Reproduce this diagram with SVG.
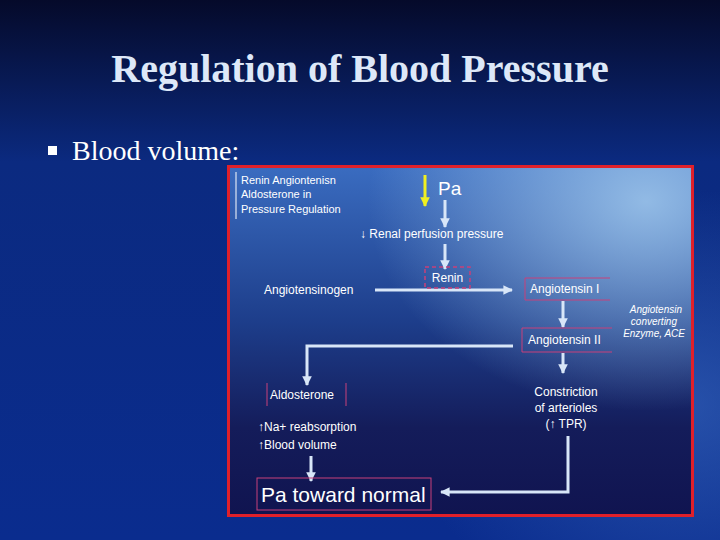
<svg xmlns="http://www.w3.org/2000/svg" width="720" height="540" viewBox="0 0 720 540">
<defs>
<linearGradient id="bg" x1="0" y1="0" x2="0" y2="1"><stop offset="0" stop-color="#050a2a"/><stop offset="0.3" stop-color="#0b2a80"/><stop offset="1" stop-color="#0a2c8e"/></linearGradient>
<radialGradient id="bg2" cx="0.95" cy="0.75" r="0.4"><stop offset="0" stop-color="#3a6ac0" stop-opacity="0.6"/><stop offset="1" stop-color="#3a6ac0" stop-opacity="0"/></radialGradient>
<linearGradient id="pn" x1="0" y1="0" x2="0" y2="1"><stop offset="0" stop-color="#3a6cc0"/><stop offset="0.45" stop-color="#1d3d8a"/><stop offset="0.75" stop-color="#141c5a"/><stop offset="1" stop-color="#101450"/></linearGradient>
<radialGradient id="pn2" cx="0.9" cy="0.1" r="0.6"><stop offset="0" stop-color="#9cc4ea" stop-opacity="0.9"/><stop offset="1" stop-color="#9cc4ea" stop-opacity="0"/></radialGradient>
<marker id="ah" viewBox="0 0 10 10" refX="9" refY="5" markerWidth="3.2" markerHeight="3.2" orient="auto"><path d="M0,0L10,5L0,10z" fill="#d8e6f8"/></marker>
<marker id="ay" viewBox="0 0 10 10" refX="9" refY="5" markerWidth="3.2" markerHeight="3.2" orient="auto"><path d="M0,0L10,5L0,10z" fill="#f0f020"/></marker>
</defs>
<style>
.t{font-family:"Liberation Sans",Arial,sans-serif;fill:#ffffff;font-size:12px}
.s{font-size:11px}
.i{font-size:10px;font-style:italic}
.l{font-size:19px}
.n{font-size:21px}
.c{stroke:#d8e6f8;stroke-width:3;fill:none}
.b{stroke:#c8407a;stroke-width:1;fill:none}
</style>
<rect width="720" height="540" fill="url(#bg)"/>
<rect width="720" height="540" fill="url(#bg2)"/>
<text x="360" y="82" text-anchor="middle" font-family="Liberation Serif,serif" font-weight="bold" font-size="40" fill="#dde8f8">Regulation of Blood Pressure</text>
<rect x="48" y="146" width="9" height="9" fill="#ffffff"/>
<text x="72" y="160" font-family="Liberation Serif,serif" font-size="28" fill="#ffffff">Blood volume:</text>
<g id="panel">
<rect x="228.5" y="166.5" width="464" height="349" fill="url(#pn)"/>
<rect x="228.5" y="166.5" width="464" height="349" fill="url(#pn2)"/>
<rect x="228.5" y="166.5" width="464" height="349" fill="none" stroke="#e0202a" stroke-width="3"/>
</g>
<g id="heading"><line x1="236" y1="172" x2="236" y2="219" stroke="#ffffff" stroke-width="1"/>
<text class="t s" x="241" y="184">Renin Angiontenisn</text>
<text class="t s" x="241" y="198">Aldosterone in</text>
<text class="t s" x="241" y="213">Pressure Regulation</text></g>
<g id="connectors">
<line x1="425" y1="175" x2="425" y2="206" stroke="#f0f020" stroke-width="3" marker-end="url(#ay)"/>
<line class="c" x1="445" y1="200" x2="445" y2="227" marker-end="url(#ah)"/>
<line class="c" x1="445" y1="244" x2="445" y2="269" marker-end="url(#ah)"/>
<line class="c" x1="375" y1="290" x2="512" y2="290" marker-end="url(#ah)"/>
<line class="c" x1="563" y1="301" x2="563" y2="327" marker-end="url(#ah)"/>
<polyline class="c" points="513,346 307,346 307,385" marker-end="url(#ah)"/>
<line class="c" x1="563" y1="353" x2="563" y2="373" marker-end="url(#ah)"/>
<line class="c" x1="311" y1="456" x2="311" y2="481" marker-end="url(#ah)"/>
<polyline class="c" points="568,436 568,492 441,492" marker-end="url(#ah)"/>
</g>
<g id="pa"><text class="t l" x="438" y="195">Pa</text></g>
<g id="renal"><text class="t" x="360" y="238">↓ Renal perfusion pressure</text></g>
<g id="renin"><rect x="425" y="267" width="45" height="21" fill="none" stroke="#c8407a" stroke-width="1.5" stroke-dasharray="4,3"/><text class="t" x="447.5" y="282" text-anchor="middle">Renin</text></g>
<g id="angiotensinogen"><text class="t" x="264" y="294">Angiotensinogen</text></g>
<g id="ang1"><path class="b" d="M610,278H525V300H610"/><text class="t" x="530" y="293">Angiotensin I</text></g>
<g id="ace"><text class="t i" x="682" y="313" text-anchor="end">Angiotensin</text><text class="t i" x="677" y="325" text-anchor="end">converting</text><text class="t i" x="685" y="337" text-anchor="end">Enzyme, ACE</text></g>
<g id="ang2"><path class="b" d="M612,328H522V352H612"/><text class="t" x="528" y="344">Angiotensin II</text></g>
<g id="aldo"><line class="b" x1="267" y1="383" x2="267" y2="406"/><line class="b" x1="346" y1="383" x2="346" y2="406"/><text class="t" x="270" y="399">Aldosterone</text></g>
<g id="na"><text class="t" x="258" y="431">↑Na+ reabsorption</text><text class="t" x="258" y="449">↑Blood volume</text></g>
<g id="constr"><text class="t" x="566" y="396" text-anchor="middle">Constriction</text><text class="t" x="566" y="412" text-anchor="middle">of arterioles</text><text class="t" x="566" y="428" text-anchor="middle">(↑ TPR)</text></g>
<g id="normal"><rect class="b" x="257" y="478" width="174" height="32"/><text class="t n" x="261" y="502">Pa toward normal</text></g>
</svg>
